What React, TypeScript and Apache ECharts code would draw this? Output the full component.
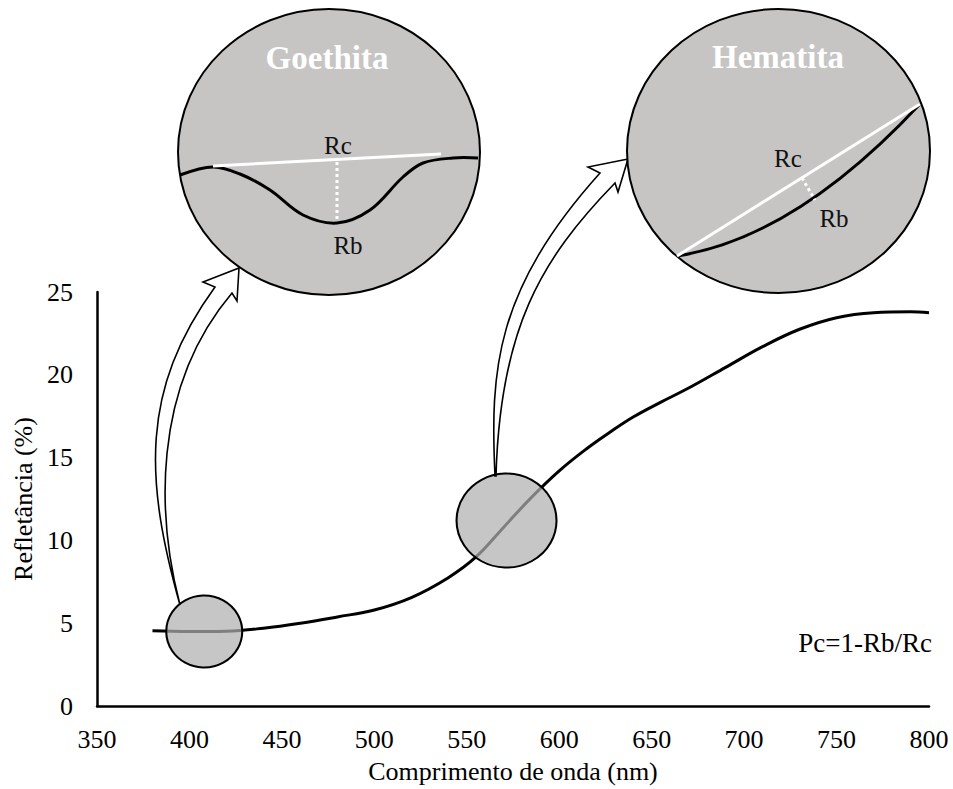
import React, { useEffect, useRef } from "react";
import * as echarts from "echarts";

// Spectrum (nm) and reflectance (%)
const wavelengths = [380, 400, 420, 440, 460, 480, 500, 520, 540, 555, 570, 585, 600, 615, 627, 640, 655, 670, 690, 710, 730, 750, 770, 790, 800];
const reflectance = [4.55, 4.5, 4.52, 4.7, 5.0, 5.38, 5.8, 6.55, 7.75, 9.0, 10.8, 12.6, 14.2, 15.55, 16.5, 17.45, 18.35, 19.2, 20.45, 21.7, 22.75, 23.45, 23.75, 23.8, 23.75];
// Zoomed regions on the curve (nm, %)
const zoomWavelengths = [408, 571.5];
const zoomReflectance = [4.5, 11.2];
const xTicks = { min: 350, max: 800, interval: 50 };
const yTicks = { min: 0, max: 25, interval: 5 };

const FONT = "Liberation Serif, Times New Roman, serif";

echarts.graphic.registerShape(
  "arrowGoethita",
  echarts.graphic.extendPath(
    "M180 605 C145 480 140 390 215 287 L203 282 L239 268 L237 301 L232 293 C150 390 158 520 180 605 Z",
    {}
  )
);
echarts.graphic.registerShape(
  "arrowHematita",
  echarts.graphic.extendPath(
    "M495 476 C490 370 495 290 600 173 L588 167 L628 159 L618 192 L615 183 C540 260 500 330 496 476 Z",
    {}
  )
);

export default function App() {
  const ref = useRef<HTMLDivElement>(null);
  useEffect(() => {
    if (!ref.current) return;
    const chart = echarts.init(ref.current, undefined, { renderer: "svg" });
    const lineData = wavelengths.map((w, i) => [w, reflectance[i]]);
    const zoomData = zoomWavelengths.map((w, i) => ({
      value: [w, zoomReflectance[i]],
      symbolSize: i === 0 ? [76, 72] : [100, 94],
    }));
    const txt = (text: string, x: number, y: number, size = 25) => ({
      type: "text",
      x,
      y,
      z: 20,
      style: { text, fill: "#111", font: `${size}px ${FONT}`, align: "center", verticalAlign: "middle" },
    });
    chart.setOption({
      animation: false,
      backgroundColor: "#fff",
      grid: { left: 97, right: 24, top: 292, bottom: 81 },
      xAxis: {
        type: "value",
        ...xTicks,
        name: "Comprimento de onda (nm)",
        nameLocation: "middle",
        nameGap: 52,
        nameTextStyle: { fontFamily: FONT, fontSize: 26, color: "#000" },
        axisLine: { onZero: false, lineStyle: { color: "#000", width: 2.5 } },
        axisTick: { show: false },
        splitLine: { show: false },
        axisLabel: { fontFamily: FONT, fontSize: 26, color: "#000", margin: 20 },
      },
      yAxis: {
        type: "value",
        ...yTicks,
        name: "Refletância (%)",
        nameLocation: "middle",
        nameGap: 60,
        nameTextStyle: { fontFamily: FONT, fontSize: 26, color: "#000" },
        axisLine: { show: true, lineStyle: { color: "#000", width: 2.5 } },
        axisTick: { show: false },
        splitLine: { show: false },
        axisLabel: { fontFamily: FONT, fontSize: 26, color: "#000", margin: 24 },
      },
      series: [
        {
          type: "line",
          data: lineData,
          smooth: 0.4,
          symbol: "none",
          lineStyle: { color: "#000", width: 3 },
          z: 2,
        },
        {
          type: "scatter",
          data: zoomData,
          symbol: "circle",
          itemStyle: { color: "rgba(176,176,176,0.72)", borderColor: "#000", borderWidth: 2, opacity: 1 },
          z: 3,
        },
      ],
      graphic: [
        { type: "arrowGoethita", z: 5, style: { fill: "#fff", stroke: "#000", lineWidth: 1.6 } },
        { type: "arrowHematita", z: 5, style: { fill: "#fff", stroke: "#000", lineWidth: 1.6 } },
        // Goethita inset
        { type: "ellipse", z: 10, shape: { cx: 329, cy: 152, rx: 151, ry: 143 }, style: { fill: "#c6c5c4", stroke: "#000", lineWidth: 2 } },
        {
          type: "polyline",
          z: 11,
          shape: {
            points: [[180, 175], [213, 167], [240, 174], [270, 190], [303, 215], [337, 223], [370, 210], [403, 177], [423, 163], [453, 158], [478, 158]],
            smooth: 0.35,
          },
          style: { stroke: "#000", lineWidth: 3, fill: null },
        },
        { type: "line", z: 12, shape: { x1: 213, y1: 166, x2: 441, y2: 154 }, style: { stroke: "#fff", lineWidth: 3 } },
        { type: "line", z: 12, shape: { x1: 337, y1: 162, x2: 337, y2: 222 }, style: { stroke: "#fff", lineWidth: 3, lineDash: [3, 3] } },
        txt("Rc", 338, 145),
        txt("Rb", 348, 245),
        {
          type: "text",
          x: 327,
          y: 58,
          z: 20,
          style: { text: "Goethita", fill: "#fff", font: `bold 33px ${FONT}`, align: "center", verticalAlign: "middle" },
        },
        // Hematita inset
        { type: "ellipse", z: 10, shape: { cx: 778.5, cy: 151, rx: 151.5, ry: 142 }, style: { fill: "#c6c5c4", stroke: "#000", lineWidth: 2 } },
        {
          type: "bezierCurve",
          z: 11,
          shape: { x1: 677, y1: 256, cpx1: 795, cpy1: 238, x2: 920, y2: 104 },
          style: { stroke: "#000", lineWidth: 3, fill: null },
        },
        { type: "line", z: 12, shape: { x1: 677, y1: 256, x2: 920, y2: 104 }, style: { stroke: "#fff", lineWidth: 3 } },
        { type: "line", z: 12, shape: { x1: 802, y1: 178, x2: 815, y2: 200 }, style: { stroke: "#fff", lineWidth: 3, lineDash: [3, 3] } },
        txt("Rc", 788, 158),
        txt("Rb", 834, 218),
        {
          type: "text",
          x: 778,
          y: 57,
          z: 20,
          style: { text: "Hematita", fill: "#fff", font: `bold 33px ${FONT}`, align: "center", verticalAlign: "middle" },
        },
        // Formula
        {
          type: "text",
          x: 932,
          y: 643,
          z: 20,
          style: { text: "Pc=1-Rb/Rc", fill: "#000", font: `27px ${FONT}`, align: "right", verticalAlign: "middle" },
        },
      ],
    });
    return () => chart.dispose();
  }, []);
  return <div ref={ref} style={{ position: "absolute", left: 0, top: 0, width: 953, height: 789 }} />;
}
